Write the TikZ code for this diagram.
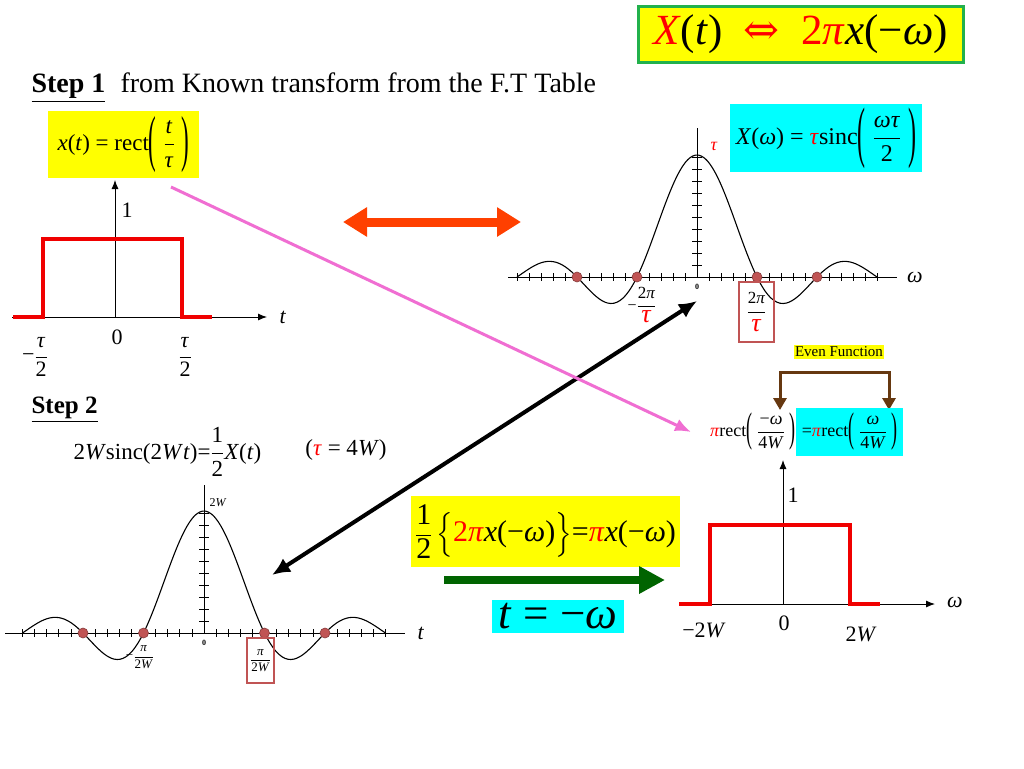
\documentclass[tikz,border=0pt]{standalone}
\usepackage{amsmath}
\usepackage{fontspec}
\setmainfont{Liberation Serif}
\newfontfamily\symfont{DejaVu Serif}
\usetikzlibrary{arrows.meta,positioning}

\definecolor{hlyellow}{RGB}{255,255,0}
\definecolor{hlcyan}{RGB}{0,255,255}
\definecolor{boxgreen}{RGB}{34,177,76}
\definecolor{pulsered}{RGB}{240,0,0}
\definecolor{zerodot}{RGB}{192,84,84}
\definecolor{pinkline}{RGB}{240,110,210}
\definecolor{orangered}{RGB}{255,64,0}
\definecolor{evbrown}{RGB}{102,56,16}
\definecolor{darkgreen}{RGB}{0,100,0}

\newcommand{\iv}[1]{\textit{#1}}
\newcommand{\rd}[1]{\textcolor{red}{#1}}
\newcommand{\fr}[2]{\ensuremath{\genfrac{}{}{0.5pt}{0}{\text{#1}}{\text{#2}}}}
\newcommand{\pars}[2]{\ensuremath{\vcenter{\hbox{\scalebox{1}[#1]{(}}}\;#2\;\vcenter{\hbox{\scalebox{1}[#1]{)}}}}}

\tikzset{
  hlbox/.style={fill=hlyellow, inner sep=0pt},
  cybox/.style={fill=hlcyan, inner sep=0pt},
  titlebox/.style={draw=boxgreen, line width=3pt, fill=hlyellow, inner sep=0pt},
  pulse/.style={pulsered, line width=4pt},
  axis/.style={line width=0.9pt, -{Latex[length=9pt,width=7pt]}},
  sinc/.style={line width=1.1pt, smooth},
  zdot/.style={circle, fill=zerodot, draw=zerodot!70!black, line width=0.6pt, inner sep=0pt, minimum size=10pt},
  pbox/.style={draw=zerodot, line width=1.3pt, inner sep=0pt},
  orarrow/.style={orangered, line width=9pt, {Triangle[length=24pt,width=28pt]}-{Triangle[length=24pt,width=28pt]}},
  blkarrow/.style={line width=4pt, {Latex[length=18pt,width=16pt]}-{Latex[length=18pt,width=16pt]}},
  pkarrow/.style={pinkline, line width=3pt, -{Latex[length=16pt,width=13pt]}},
  brarrow/.style={evbrown, line width=3pt, {Triangle[length=12pt,width=13pt]}-{Triangle[length=12pt,width=13pt]}},
  grarrow/.style={darkgreen, line width=8pt, -{Triangle[length=26pt,width=26pt]}},
  small/.style={font=\fontsize{13}{15}\selectfont},
}

\begin{document}
\begin{tikzpicture}[x=1pt, y=-1pt, font=\fontsize{22}{26}\selectfont]
\useasboundingbox[fill=white] (0,0) rectangle (1024,768);

% title
\node[titlebox, minimum width=325pt, minimum height=55pt, font=\fontsize{43}{46}\selectfont] (title) at (800.5,34.5)
  {\rd{\iv{X}}(\iv{t})\ \ \rd{{\symfont ⇔}}\ \ \rd{2\iv{π}}\iv{x}(−\iv{ω})};

% step 1
\node[anchor=base west, font=\fontsize{28}{32}\selectfont\bfseries] (step1) at (28,92) {\underline{Step 1}};
\node[anchor=base west, font=\fontsize{28}{32}\selectfont] (known) at (117,92) {from Known transform from the F.T Table};

\node[hlbox, minimum width=151pt, minimum height=67pt, font=\fontsize{23}{26}\selectfont] (xt) at (123.5,144.5)
  {\iv{x}(\iv{t}) = rect\pars{2.7}{\fr{\iv{t}}{\iv{τ}}}};

% rect in t
\draw[axis] (12,317) -- (267,317);
\draw[axis] (115,317) -- (115,180);
\draw[pulse] (13,317) -- (43,317) -- (43,239) -- (182,239) -- (182,317) -- (212,317);
\node (t1) at (283,317) {\iv{t}};
\node (one1) at (127,210) {1};
\node (zero1) at (117,337) {0};
\node (mtau) at (35,357) {−\fr{\iv{τ}}{2}};
\node (ptau) at (185,357) {\fr{\iv{τ}}{2}};

\coordinate (ol) at (343,222);
\coordinate (or) at (521,222);
\draw[orarrow] (ol) -- (or);

% sinc in omega
\begin{scope}[shift={(697,277)}]
  \draw[line width=0.9pt] (-189,0) -- (200,0);
  \draw[line width=0.9pt] (0,0) -- (0,-149);
  \foreach \k in {1,...,15} {
    \draw[line width=0.8pt] (\k*12,-4) -- (\k*12,4);
    \draw[line width=0.8pt] (-\k*12,-4) -- (-\k*12,4);
  }
  \foreach \k in {1,...,10} \draw[line width=0.8pt] (-5,-\k*12) -- (5,-\k*12);
  \draw[sinc] plot[domain=-3:3, samples=120] (\x*60, {-122*sin(180*\x)/(pi*\x)});
  \foreach \z in {-2,-1,1,2} \node[zdot] (za\z) at (\z*60,0) {};
  \node[text=red, font=\fontsize{18}{20}\selectfont] (taupk) at (17,-131) {\iv{τ}};
  \node[font=\fontsize{8}{9}\selectfont\bfseries] (za0) at (0,10) {0};
  \node (mlab1) at (-55,28) {\fontsize{16}{18}\selectfont −\fr{\fontsize{17}{19}\selectfont 2\iv{π}}{\fontsize{26}{28}\selectfont\rd{\iv{τ}}}};
  \node[pbox, minimum width=35pt, minimum height=60pt] (pb1) at (59.5,35)
    {\fr{\fontsize{17}{19}\selectfont 2\iv{π}}{\fontsize{26}{28}\selectfont\rd{\iv{τ}}}};
\end{scope}
\node (w1) at (915,277) {\iv{ω}};

\node[cybox, minimum width=192pt, minimum height=68pt, font=\fontsize{24}{27}\selectfont] (xw) at (826,138)
  {\iv{X}(\iv{ω}) = \rd{\iv{τ}}sinc\pars{2.8}{\fr{\iv{ωτ}}{2}}};

% duality arrows
\coordinate (ba) at (697,301);
\coordinate (bb) at (272,575);
\draw[blkarrow] (bb) -- (ba);

\coordinate (pa) at (171,187);
\coordinate (pb) at (691,432);
\draw[pkarrow] (pa) -- (pb);

% even function
\node[fill=hlyellow, inner sep=1.5pt, font=\fontsize{15}{17}\selectfont] (even) at (839,352) {Even Function};
\coordinate (el) at (780,410);
\coordinate (er) at (889,410);
\draw[brarrow] (el) -- (780,372) -- (889,372) -- (er);

\node[anchor=east, inner sep=0pt, font=\fontsize{18}{20}\selectfont] (rectl) at (796,432)
  {\rd{\iv{π}}rect\pars{2.3}{\fr{−\iv{ω}}{4\iv{W}}}};
\node[cybox, anchor=west, minimum width=107pt, minimum height=48pt, font=\fontsize{18}{20}\selectfont] (rectr) at (796,432)
  {=\rd{\iv{π}}rect\pars{2.3}{\fr{\iv{ω}}{4\iv{W}}}};

% rect in omega
\draw[axis] (679,604) -- (935,604);
\draw[axis] (783,604) -- (783,460);
\draw[pulse] (679,604) -- (710,604) -- (710,525) -- (850,525) -- (850,604) -- (880,604);
\node (one2) at (793,495) {1};
\node (zero2) at (784,623) {0};
\node (m2w) at (704,630) {−2\iv{W}};
\node (p2w) at (861,634) {2\iv{W}};
\node (w2) at (955,602) {\iv{ω}};

% step 2
\node[anchor=base west, font=\fontsize{25}{28}\selectfont\bfseries] (step2) at (28,413) {\underline{Step 2}};
\node[anchor=west, font=\fontsize{23}{26}\selectfont] (sincdef) at (70,452)
  {2\iv{W}sinc(2\iv{W}\iv{t})=\fr{1}{2}\iv{X}(\iv{t})};
\node[font=\fontsize{23}{26}\selectfont] (tauw) at (346,450) {(\rd{\iv{τ}} = 4\iv{W})};

% sinc in t
\begin{scope}[shift={(204,633)}]
  \draw[line width=0.9pt] (-199,0) -- (201,0);
  \draw[line width=0.9pt] (0,0) -- (0,-148);
  \foreach \k in {1,...,15} {
    \draw[line width=0.8pt] (\k*12.1,-4) -- (\k*12.1,4);
    \draw[line width=0.8pt] (-\k*12.1,-4) -- (-\k*12.1,4);
  }
  \foreach \k in {1,...,10} \draw[line width=0.8pt] (-5,-\k*12) -- (5,-\k*12);
  \draw[sinc] plot[domain=-3:3, samples=120] (\x*60.5, {-122*sin(180*\x)/(pi*\x)});
  \foreach \z in {-2,-1,1,2} \node[zdot] (zb\z) at (\z*60.5,0) {};
  \node[font=\fontsize{12}{14}\selectfont] (top2w) at (14,-130) {2\iv{W}};
  \node[font=\fontsize{8}{9}\selectfont\bfseries] (zb0) at (0,10) {0};
  \node[small] (mlab2) at (-64,24) {−\fr{\iv{π}}{2\iv{W}}};
  \node[pbox, small, minimum width=27pt, minimum height=45pt] (pb2) at (56.5,27.5) {\fr{\iv{π}}{2\iv{W}}};
\end{scope}
\node (t2) at (421,633) {\iv{t}};

% scaling and change of variable
\node[hlbox, minimum width=269pt, minimum height=71pt, font=\fontsize{30}{34}\selectfont] (half) at (545.5,531.5)
  {$\fr{1}{2}\left\{\vrule height 26pt depth 16pt width 0pt\text{\rd{2\iv{π}}\iv{x}(−\iv{ω})}\right\}$=\rd{\iv{π}}\iv{x}(−\iv{ω})};
\coordinate (ga) at (444,580);
\coordinate (gb) at (665,580);
\draw[grarrow] (ga) -- (gb);
\node[cybox, minimum width=132pt, minimum height=33pt, font=\fontsize{45}{45}\selectfont] (tw) at (558,616.5)
  {\iv{t} = −\iv{ω}};
\end{tikzpicture}
\end{document}
